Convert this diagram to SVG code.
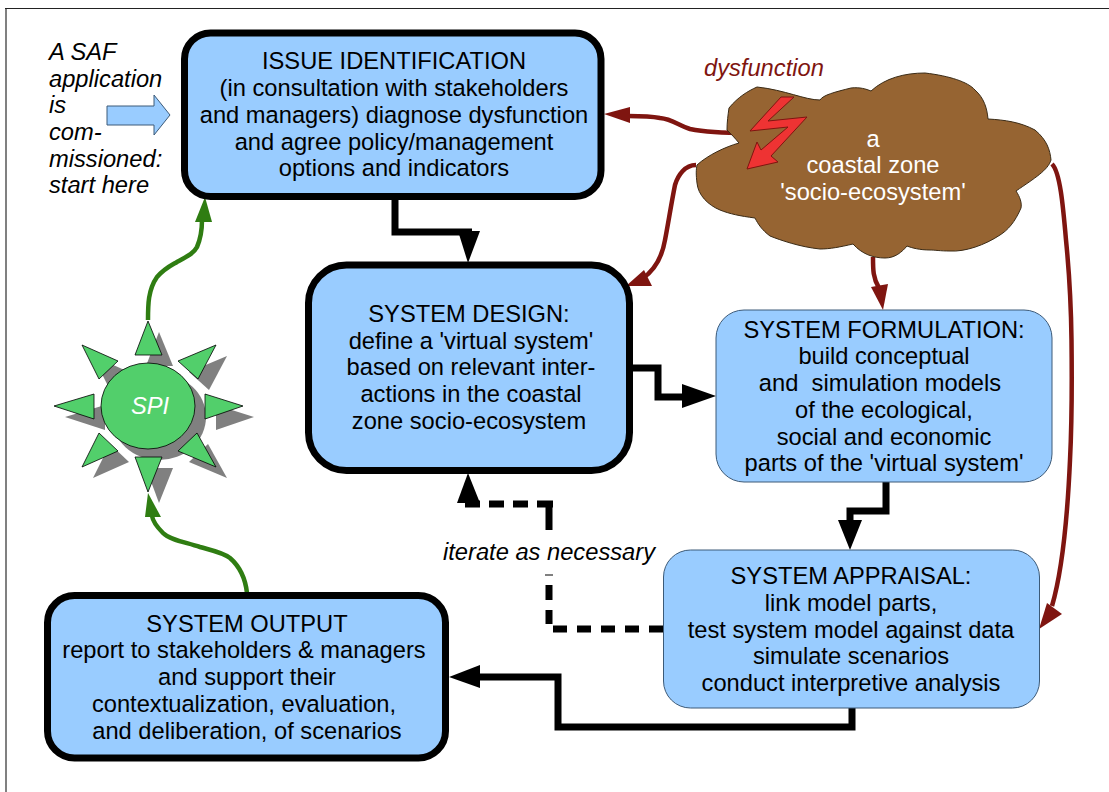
<svg xmlns="http://www.w3.org/2000/svg" width="1109" height="792" viewBox="0 0 1109 792">
<style>
text{font-family:"Liberation Sans",Arial,sans-serif;font-size:23.700px;fill:#000;text-anchor:middle}
.l{text-anchor:start;font-style:italic}
.w{fill:#fff}
.thick{fill:#99ccff;stroke:#000;stroke-width:7}
.thin{fill:#99ccff;stroke:#3c5a78;stroke-width:1}
.k{fill:none;stroke:#000;stroke-width:7}
.r{fill:none;stroke:#7f1510;stroke-width:4.500}
.g{fill:none;stroke:#2f7d12;stroke-width:4.500}
.rh{fill:#7f1510}
.gh{fill:#2f7d12}
.tri{fill:#52cf6b;stroke:#000;stroke-width:.8}
.sh{fill:#808080}
</style>
<rect width="1109" height="792" fill="#fff"/>
<path d="M6 792V9" fill="none" stroke="#808080" stroke-width="2"/>
<path d="M5 8.500H1109" fill="none" stroke="#222" stroke-width="1"/>
<g id="intro">
<text class="l" x="49" y="60">A SAF</text>
<text class="l" x="49" y="87">application</text>
<text class="l" x="49" y="113">is</text>
<text class="l" x="49" y="140">com-</text>
<text class="l" x="49" y="167">missioned:</text>
<text class="l" x="49" y="193">start here</text>
<path d="M107 106H154V95L170 115L154 135V125H107Z" fill="#99ccff" stroke="#3c5a78" stroke-width="1"/>
</g>
<g id="connectors">
<path class="k" d="M395 197V232H472"/>
<path d="M458 231H480L468 263Z" fill="#000"/>
<path class="k" d="M630 368H658V397H690"/>
<path d="M682 384L716 396L682 408Z" fill="#000"/>
<path class="k" d="M886 482V511H850V525"/>
<path d="M838 520L850 550L862 520Z" fill="#000"/>
<path class="k" d="M852 708V727H558V677H475"/>
<path d="M480 665L449 677L480 688Z" fill="#000"/>
<path class="k" d="M663.500 629H649M639 629H625M615 629H601M591 629H577M567 629H553M549 624V610M549 600V585M549 530V507M553 504H537M528 504H513M504 504H489M480 504H465"/>
<path d="M545 575H553" fill="none" stroke="#000" stroke-width="1"/>
<path d="M457 503L468 473L480 503Z" fill="#000"/>
<path class="r" d="M747 133C725 133 705 132 690 129C678 125 672 119 660 118C650 116 640 116 628 116"/>
<path class="rh" d="M604 114L630 107V123Z"/>
<path class="r" d="M696 165C685 165 678 175 675 185C671 205 668 225 665 240C662 258 655 270 642 279"/>
<path class="rh" d="M626 286L644 270L652 286Z"/>
<path class="r" d="M873 257C873 270 873 278 879 288"/>
<path class="rh" d="M871 287L888 284L883 310Z"/>
<path class="r" d="M1052 164C1060 172 1063 205 1066 240C1069 270 1071 300 1071.500 340C1072 380 1072 420 1070 460C1068 505 1064 565 1052 606"/>
<path class="rh" d="M1039 629L1047 603L1062 614Z"/>
<path class="g" d="M247 593C245 575 238 565 230 558C222 552 210 550 200 547C185 542 170 540 163 533C157 527 153 522 152 516"/>
<path class="gh" d="M148 493L145 517H161Z"/>
<path class="g" d="M148 320C148 305 148 290 157 277C165 268 172 265 177 262C188 256 194 253 197 247C200 240 202 232 202 220"/>
<path class="gh" d="M205 197L195 222H212Z"/>
</g>
<g id="issue-identification">
<rect class="thick" x="184.500" y="33" width="416.500" height="163.500" rx="26"/>
<text x="394" y="69">ISSUE IDENTIFICATION</text>
<text x="394" y="96">(in consultation with stakeholders</text>
<text x="394" y="123">and managers) diagnose dysfunction</text>
<text x="394" y="150">and agree policy/management</text>
<text x="394" y="176">options and indicators</text>
</g>
<g id="system-design">
<rect class="thick" x="308.500" y="265" width="321" height="205.500" rx="38"/>
<text x="469" y="322">SYSTEM DESIGN:</text>
<text x="471" y="349">define a 'virtual system'</text>
<text x="471" y="375">based on relevant inter-</text>
<text x="471" y="402">actions in the coastal</text>
<text x="469" y="429">zone socio-ecosystem</text>
</g>
<g id="system-formulation">
<rect class="thin" x="716" y="310" width="336" height="172" rx="28"/>
<text x="884" y="338">SYSTEM FORMULATION:</text>
<text x="884" y="364">build conceptual</text>
<text x="880" y="391">and&#160; simulation models</text>
<text x="884" y="418">of the ecological,</text>
<text x="884" y="445">social and economic</text>
<text x="884" y="471">parts of the 'virtual system'</text>
</g>
<g id="system-appraisal">
<rect class="thin" x="663.500" y="550" width="376" height="158" rx="27"/>
<text x="851" y="584">SYSTEM APPRAISAL:</text>
<text x="851" y="611">link model parts,</text>
<text x="851" y="638">test system model against data</text>
<text x="851" y="664">simulate scenarios</text>
<text x="851" y="691">conduct interpretive analysis</text>
</g>
<g id="system-output">
<rect class="thick" x="47.500" y="595.500" width="398" height="162.500" rx="27"/>
<text x="247" y="632">SYSTEM OUTPUT</text>
<text x="244" y="658">report to stakeholders &amp; managers</text>
<text x="247" y="685">and support their</text>
<text x="244" y="712">contextualization, evaluation,</text>
<text x="247" y="739">and deliberation, of scenarios</text>
</g>
<g id="iterate-label">
<text class="l" x="443" y="560">iterate as necessary</text>
</g>
<g id="socio-ecosystem">
<path d="M729 108C738 97 748 91 757 87C785 90 805 100 820 100C823 95 835 92 851 88C860 87 866 89 871 91C885 78 905 73 925 73C950 76 968 82 975 90C984 98 987 108 988 119C1005 120 1020 122 1035 130C1047 140 1050 150 1051 160C1048 170 1035 178 1016 191C1020 197 1022 203 1021 208C1015 222 1008 230 1000 235C985 245 965 252 950 251C940 251 935 250 930 250C920 250 912 248 907 246C902 252 895 258 885 258C873 258 862 254 853 244C840 247 830 249 820 249C800 247 780 240 770 236C762 230 758 224 755 218C740 216 730 214 720 210C708 205 698 195 697 183C696 175 696 170 697 165C708 155 725 147 739 143C735 138 731 134 727 130C727 122 728 115 729 108Z" fill="#966432" stroke="#3a2a15" stroke-width="1"/>
<text class="w" x="873" y="147">a</text>
<text class="w" x="873" y="173">coastal zone</text>
<text class="w" x="873" y="200">'socio-ecosystem'</text>
<path d="M781 97L794 97L768 121L807 117L771 156L778 162L747 169L757 142L761 150L788 127L750 131Z" fill="#ee3333" stroke="#7f1510" stroke-width="1"/>
</g>
<text x="704" y="76" class="l" style="fill:#7f1510">dysfunction</text>
<g id="spi">
<g class="sh" transform="translate(11 11)">
<ellipse cx="148" cy="406" rx="47" ry="43"/>
<path d="M148 321L135 355H162Z"/><path d="M216 345L178 361L198 379Z"/><path d="M243 406L205 394V419Z"/><path d="M216 467L178 451L197 433Z"/><path d="M148 492L135 457H162Z"/><path d="M82 467L118 451L99 433Z"/><path d="M54 406L94 394V419Z"/><path d="M82 345L118 361L99 379Z"/>
</g>
<ellipse class="tri" cx="148" cy="406" rx="47" ry="43"/>
<path class="tri" d="M148 321L135 355H162Z"/><path class="tri" d="M216 345L178 361L198 379Z"/><path class="tri" d="M243 406L205 394V419Z"/><path class="tri" d="M216 467L178 451L197 433Z"/><path class="tri" d="M148 492L135 457H162Z"/><path class="tri" d="M82 467L118 451L99 433Z"/><path class="tri" d="M54 406L94 394V419Z"/><path class="tri" d="M82 345L118 361L99 379Z"/>
<text class="l w" x="131" y="414">SPI</text>
</g>
</svg>
